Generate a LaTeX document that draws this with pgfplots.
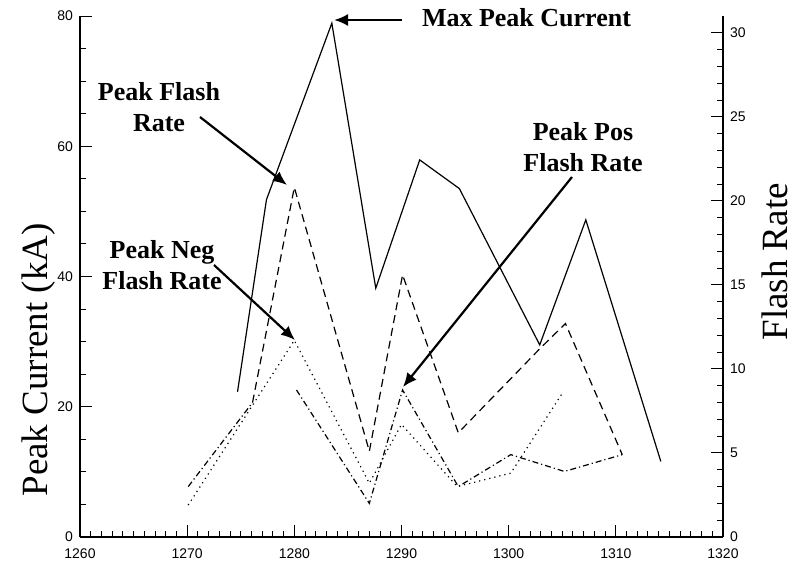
\documentclass[border=0pt]{standalone}
\usepackage{fontspec}
\setmainfont{Liberation Serif}
\setsansfont{Liberation Sans}
\usepackage{pgfplots}
\pgfplotsset{compat=1.18}
\usetikzlibrary{arrows.meta}

\begin{document}
\begin{tikzpicture}
\path[use as bounding box] (-40pt,-13pt) rectangle (357pt,268.5pt);
\pgfplotsset{
  common/.style={
    scale only axis, width=321.5pt, height=260.5pt,
    xmin=1260, xmax=1320,
    tick align=inside,
    major tick length=6pt, minor tick length=3pt,
    tick style={black, line width=0.5pt},
    axis line style={line width=0.6pt},
    ticklabel style={font=\sffamily\fontsize{7}{8}\selectfont},
    /pgf/number format/assume math mode=true,
    /pgf/number format/1000 sep={},
  },
  solidl/.style={black, line width=0.6pt},
  dashedl/.style={black, line width=0.6pt, dash pattern=on 4pt off 2.5pt},
  dottedl/.style={black, line width=0.6pt, dash pattern=on 0.6pt off 2pt},
  dashdotl/.style={black, line width=0.6pt, dash pattern=on 3pt off 1.5pt on 0.6pt off 1.5pt},
}
\begin{axis}[common,
  axis x line*=bottom, axis y line*=left,
  ymin=0, ymax=80, ytick={0,20,40,60,80}, minor y tick num=3,
  xtick={1260,1270,...,1320}, minor x tick num=9,
  xticklabel style={yshift=-2.5pt},
  ylabel={Peak Current (kA)},
  ylabel style={font=\fontsize{18.5}{20}\selectfont, at={(axis description cs:-0.065,0.34)}, anchor=center},
]
\addplot[solidl] coordinates {(1274.7,22.3) (1277.4,51.8) (1283.5,78.9) (1287.6,38.2) (1291.7,57.9) (1295.4,53.5) (1302.9,29.5) (1307.2,48.7) (1314.2,11.6)};
\end{axis}
\begin{axis}[common,
  axis x line=none, axis y line*=right,
  ymin=0, ymax=31, ytick={0,5,...,30}, minor y tick num=4,
  ylabel={Flash Rate},
  ylabel style={font=\fontsize{18.5}{20}\selectfont, at={(axis description cs:1.081,0.528)}, anchor=center},
]
\addplot[dashedl] coordinates {(1276.1,8.0) (1280.0,20.8) (1287.0,5.1) (1290.1,15.6) (1295.3,6.2) (1302.9,11.2) (1305.3,12.7) (1310.6,4.9)};
\addplot[dottedl] coordinates {(1270.1,1.9) (1280.0,11.7) (1287.0,3.2) (1290.0,6.7) (1295.2,3.0) (1300.2,3.8) (1305.0,8.55)};
\addplot[dashdotl] coordinates {(1270.1,3.0) (1276.1,8.0)};
\addplot[dashdotl] coordinates {(1280.2,8.75) (1287.0,2.0) (1290.1,8.75) (1295.3,3.0) (1300.2,4.9) (1305.2,3.9) (1310.6,4.9)};
\end{axis}
\tikzset{ann/.style={align=center, inner sep=0pt, font=\bfseries\fontsize{13}{15.5}\selectfont},
         arr/.style={line width=1.1pt, -{Latex[length=7pt,width=6pt]}}}
\node[ann] at (223.25pt,259.5pt) {Max Peak Current};
\draw[arr] (160.85pt,258.5pt) -- (127pt,258.5pt);
\node[ann] at (39.5pt,215pt) {Peak Flash\\Rate};
\draw[arr] (60pt,210pt) -- (103.5pt,176pt);
\node[ann] at (41pt,136pt) {Peak Neg\\Flash Rate};
\draw[arr] (67pt,136pt) -- (107.5pt,98.5pt);
\node[ann] at (251.5pt,195pt) {Peak Pos\\Flash Rate};
\draw[arr] (246pt,180pt) -- (161.5pt,75pt);
\end{tikzpicture}
\end{document}
